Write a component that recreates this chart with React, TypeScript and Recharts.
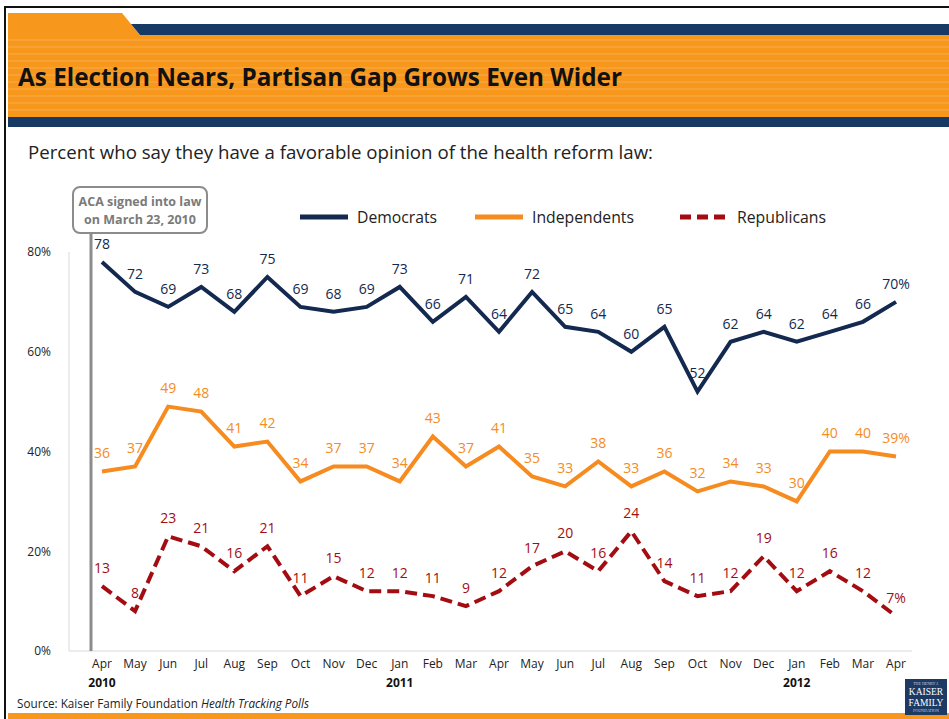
import React from 'react';
import { LineChart, Line, XAxis, YAxis, LabelList } from 'recharts';

const months = [
  'Apr', 'May', 'Jun', 'Jul', 'Aug', 'Sep', 'Oct', 'Nov', 'Dec',
  'Jan', 'Feb', 'Mar', 'Apr', 'May', 'Jun', 'Jul', 'Aug', 'Sep', 'Oct', 'Nov', 'Dec',
  'Jan', 'Feb', 'Mar', 'Apr',
];
const yearLabels: Record<number, string> = { 0: '2010', 9: '2011', 21: '2012' };

const democrats = [78, 72, 69, 73, 68, 75, 69, 68, 69, 73, 66, 71, 64, 72, 65, 64, 60, 65, 52, 62, 64, 62, 64, 66, 70];
const independents = [36, 37, 49, 48, 41, 42, 34, 37, 37, 34, 43, 37, 41, 35, 33, 38, 33, 36, 32, 34, 33, 30, 40, 40, 39];
const republicans = [13, 8, 23, 21, 16, 21, 11, 15, 12, 12, 11, 9, 12, 17, 20, 16, 24, 14, 11, 12, 19, 12, 16, 12, 7];

const yTicks = [0, 20, 40, 60, 80];

const NAVY = '#13294f';
const ORANGE = '#f68b1f';
const RED = '#a30d12';
const HEADER_ORANGE = '#f7981d';
const HEADER_NAVY = '#173a64';
const FONT = '"Open Sans", "DejaVu Sans", sans-serif';

const data = months.map((m, i) => ({
  key: `${m}-${i}`,
  dem: democrats[i],
  ind: independents[i],
  rep: republicans[i],
}));

const makeLabel = (color: string) => (props: any) => {
  const { x, y, value, index } = props;
  const last = index === data.length - 1;
  return (
    <text
      x={x}
      y={y - 17}
      fill={color}
      textAnchor="middle"
      dominantBaseline="middle"
      fontSize={14}
      fontFamily={FONT}
    >
      {value}
      {last ? '%' : ''}
    </text>
  );
};

const MonthTick = (props: any) => {
  const { x, payload } = props;
  const i = payload.index;
  return (
    <g>
      <text x={x} y={668} textAnchor="middle" fontSize={12} fill="#222" fontFamily={FONT}>
        {months[i]}
      </text>
      {yearLabels[i] && (
        <text x={x} y={687} textAnchor="middle" fontSize={12} fontWeight="bold" fill="#111" fontFamily={FONT}>
          {yearLabels[i]}
        </text>
      )}
    </g>
  );
};

function Header() {
  const stripes = [];
  for (let y = 40; y < 117; y += 7) {
    stripes.push(<line key={y} x1={8} x2={949} y1={y} y2={y} stroke="#fab057" strokeWidth={1.5} opacity={0.6} />);
  }
  return (
    <svg width={949} height={719} style={{ position: 'absolute', left: 0, top: 0, pointerEvents: 'none' }}>
      {/* frame */}
      <line x1={4} x2={949} y1={7} y2={7} stroke="#111" strokeWidth={2} />
      <line x1={5} x2={5} y1={7} y2={719} stroke="#111" strokeWidth={2} />
      {/* banner */}
      <polygon points="8,13 122,13 140,35 949,35 949,117 8,117" fill={HEADER_ORANGE} />
      {stripes}
      <polygon points="131,24 949,24 949,35 140,35" fill={HEADER_NAVY} />
      <rect x={8} y={117} width={941} height={10} fill={HEADER_NAVY} />
      <text x={18} y={86} fontSize={25} fontWeight="bold" fill="#111" fontFamily={FONT} textLength={604} lengthAdjust="spacingAndGlyphs">
        As Election Nears, Partisan Gap Grows Even Wider
      </text>
      <text x={28} y={159} fontSize={18} fill="#222" fontFamily={FONT} textLength={625} lengthAdjust="spacingAndGlyphs">
        Percent who say they have a favorable opinion of the health reform law:
      </text>

      {/* ACA annotation */}
      <line x1={91} x2={91} y1={233} y2={651} stroke="#8c8c8c" strokeWidth={3} />
      <rect x={73} y={187} width={134} height={46} rx={7} fill="#fff" stroke="#8c8c8c" strokeWidth={2} />
      <text x={140} y={206} textAnchor="middle" fontSize={12.5} fontWeight="bold" fill="#7a7a7a" fontFamily={FONT}>
        ACA signed into law
      </text>
      <text x={140} y={224} textAnchor="middle" fontSize={12.5} fontWeight="bold" fill="#7a7a7a" fontFamily={FONT}>
        on March 23, 2010
      </text>

      {/* legend */}
      <line x1={300} x2={348} y1={217} y2={217} stroke={NAVY} strokeWidth={5} />
      <text x={357} y={223} fontSize={17} fill="#222" fontFamily={FONT} textLength={80} lengthAdjust="spacingAndGlyphs">Democrats</text>
      <line x1={475} x2={523} y1={217} y2={217} stroke={ORANGE} strokeWidth={5} />
      <text x={532} y={223} fontSize={17} fill="#222" fontFamily={FONT} textLength={102} lengthAdjust="spacingAndGlyphs">Independents</text>
      <line x1={680} x2={727} y1={217} y2={217} stroke={RED} strokeWidth={5} strokeDasharray="11 6" />
      <text x={737} y={223} fontSize={17} fill="#222" fontFamily={FONT} textLength={89} lengthAdjust="spacingAndGlyphs">Republicans</text>

      {/* source + footer */}
      <text x={17} y={708} fontSize={12} fill="#222" fontFamily={FONT} textLength={292} lengthAdjust="spacingAndGlyphs">
        Source: Kaiser Family Foundation <tspan fontStyle="italic">Health Tracking Polls</tspan>
      </text>
      <rect x={8} y={713} width={941} height={6} fill={HEADER_ORANGE} />
      <rect x={905} y={679} width={42} height={36} fill="#1c3a63" />
      <text x={926} y={685} textAnchor="middle" fontSize={4} fill="#c8d2e0" fontFamily="serif">THE HENRY J.</text>
      <text x={926} y={695} textAnchor="middle" fontSize={9.5} fill="#fff" fontFamily="serif">KAISER</text>
      <text x={926} y={706} textAnchor="middle" fontSize={9.5} fill="#fff" fontFamily="serif">FAMILY</text>
      <text x={926} y={712} textAnchor="middle" fontSize={4} fill="#c8d2e0" fontFamily="serif">FOUNDATION</text>
    </svg>
  );
}

export default function App() {
  return (
    <div style={{ position: 'absolute', left: 0, top: 0, width: 949, height: 719, background: '#fff', overflow: 'hidden' }}>
      <LineChart width={949} height={719} data={data} margin={{ top: 252, right: 37, bottom: 0, left: 0 }}>
        <XAxis
          dataKey="key"
          interval={0}
          height={68}
          tickLine={false}
          axisLine={{ stroke: '#d9d9d9' }}
          padding={{ left: 33, right: 16 }}
          tick={<MonthTick />}
        />
        <YAxis
          width={69}
          domain={[0, 80]}
          ticks={yTicks}
          tickFormatter={(v: number) => `${v}%`}
          tickLine={false}
          axisLine={{ stroke: '#d9d9d9' }}
          tickMargin={12}
          tick={{ fontSize: 12, fill: '#222', fontFamily: FONT }}
        />
        <Line dataKey="dem" stroke={NAVY} strokeWidth={4} dot={false} isAnimationActive={false}>
          <LabelList dataKey="dem" content={makeLabel(NAVY)} />
        </Line>
        <Line dataKey="ind" stroke={ORANGE} strokeWidth={4} dot={false} isAnimationActive={false}>
          <LabelList dataKey="ind" content={makeLabel(ORANGE)} />
        </Line>
        <Line dataKey="rep" stroke={RED} strokeWidth={4} strokeDasharray="12 6" dot={false} isAnimationActive={false}>
          <LabelList dataKey="rep" content={makeLabel(RED)} />
        </Line>
      </LineChart>
      <Header />
    </div>
  );
}
